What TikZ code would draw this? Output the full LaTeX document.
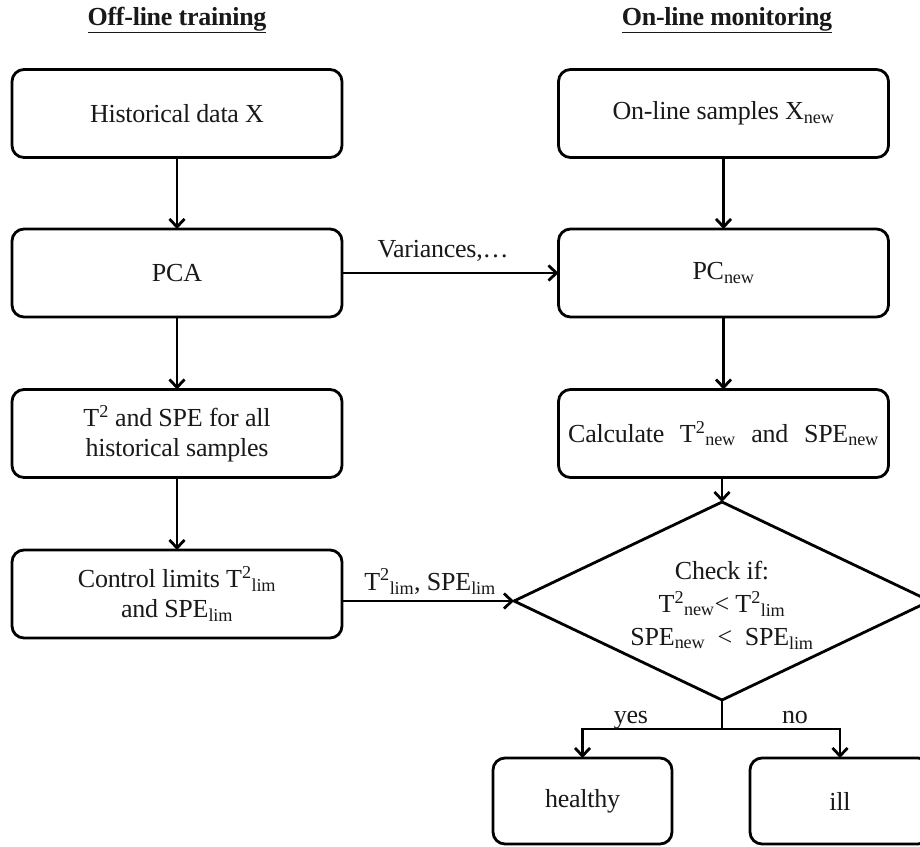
\documentclass[tikz,border=0pt]{standalone}
\usepackage{fontspec}
\setmainfont{Liberation Serif}[LetterSpace=-1]
\usetikzlibrary{shapes.geometric,arrows.meta}
\newcommand\sbs[1]{\textsubscript{#1}}
\newcommand\sqr{\textsuperscript{2}}
\begin{document}
\begin{tikzpicture}[x=1pt,y=-1pt,
  every node/.style={font=\fontsize{26}{30}\selectfont, text=black!90},
  box/.style={draw, line width=2.8pt, rounded corners=12pt, minimum width=330pt, minimum height=88pt, align=center, inner sep=0pt, outer sep=0pt},
  small/.style={box, minimum width=179pt, minimum height=86pt},
  arr/.style={line width=2.8pt, -{Straight Barb[length=8pt,width=15pt]}},
  lab/.style={inner sep=0pt, anchor=base},
  title/.style={font=\fontsize{26}{30}\selectfont\bfseries}
]
\useasboundingbox (0,0) rectangle (920,846);
\clip (0,0) rectangle (920,846);
\fill[white] (0,0) rectangle (920,846);

\node[title] (t1) at (177,20) {\underline{Off-line training}};
\node[title] (t2) at (727,20) {\underline{On-line monitoring}};

\node[box] (hist) at (177,113.5) {Historical data X};
\node[box] (pca) at (177,273) {PCA};
\node[box] (tspe) at (177,433.5) {T\sqr{} and SPE for all\\historical samples};
\node[box] (ctrl) at (177,594) {Control limits T\sqr\sbs{lim}\\and SPE\sbs{lim}};

\node[box] (onl) at (723.5,113.5) {On-line samples X\sbs{new}};
\node[box] (pcn) at (723.5,273) {PC\sbs{new}};
\node[box] (calc) at (723.5,433.5) {Calculate\hspace{0.6em}T\sqr\sbs{new}\hspace{0.6em}and\hspace{0.6em}SPE\sbs{new}};

\node[diamond, draw, line width=2.8pt, minimum width=416pt, minimum height=198pt, inner sep=0pt, outer sep=0pt] (dia) at (722,601) {};
\node[align=center, font=\fontsize{26}{33}\selectfont] (dtext) at (722,605) {Check if:\\T\sqr\sbs{new}< T\sqr\sbs{lim}\\SPE\sbs{new}\ \ <\ \ SPE\sbs{lim}};

\node[small] (healthy) at (582.5,801) {healthy};
\node[small, minimum width=180pt] (ill) at (840,801) {ill};

\draw[arr] (hist.south) -- (pca.north);
\draw[arr] (pca.south) -- (tspe.north);
\draw[arr] (tspe.south) -- (ctrl.north);
\draw[arr] (onl.south) -- (pcn.north);
\draw[arr] (pcn.south) -- (calc.north);
\draw[arr] (calc.south -| dia.north) -- (dia.north);

\draw[arr] (pca.east) -- (pcn.west);
\node[lab] (lv) at (443,257) {Variances,\dots};

\draw[arr] (ctrl.east |- dia.west) -- (dia.west);
\node[lab] (ll) at (430,590) {T\sqr\sbs{lim}, SPE\sbs{lim}};

\coordinate (br) at (722,729);
\draw[line width=2.8pt] (dia.south) -- (br);
\draw[arr] (br) -| (healthy.north);
\draw[arr] (br) -| (ill.north);
\node[lab] (ly) at (631,723) {yes};
\node[lab] (ln) at (795,723) {no};
\end{tikzpicture}
\end{document}
